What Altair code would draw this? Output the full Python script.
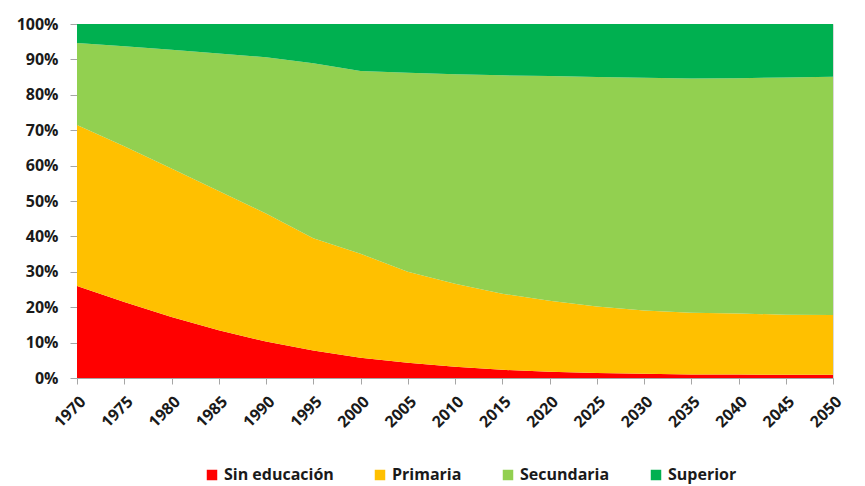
import altair as alt
import pandas as pd

years = [1970, 1975, 1980, 1985, 1990, 1995, 2000, 2005, 2010, 2015, 2020, 2025, 2030, 2035, 2040, 2045, 2050]
categories = ["Sin educación", "Primaria", "Secundaria", "Superior"]
colors = ["#FF0000", "#FFC000", "#92D050", "#00B050"]

# cumulative tops (percent)
top_sin = [26.0, 21.5, 17.2, 13.5, 10.3, 7.8, 5.7, 4.3, 3.2, 2.3, 1.8, 1.4, 1.2, 1.0, 1.0, 0.9, 0.9]
top_pri = [71.5, 65.5, 59.2, 52.8, 46.5, 39.5, 35.1, 30.0, 26.6, 23.8, 21.8, 20.2, 19.1, 18.4, 18.2, 17.9, 17.8]
top_sec = [94.6, 93.7, 92.7, 91.7, 90.6, 88.9, 86.7, 86.2, 85.8, 85.5, 85.3, 85.0, 84.8, 84.6, 84.7, 84.9, 85.1]

sin = top_sin
pri = [b - a for a, b in zip(top_sin, top_pri)]
sec = [b - a for a, b in zip(top_pri, top_sec)]
sup = [100 - a for a in top_sec]

rows = []
for i, y in enumerate(years):
    for k, (cat, vals) in enumerate(zip(categories, [sin, pri, sec, sup])):
        rows.append({"year": y, "cat": cat, "val": vals[i] / 100.0, "ord": k})
df = pd.DataFrame(rows)

font = "Open Sans"

chart = alt.Chart(df).mark_area(interpolate="linear").encode(
    x=alt.X("year:Q",
            scale=alt.Scale(domain=[1970, 2050], nice=False, zero=False),
            axis=alt.Axis(values=years, format="d", title=None, labelAngle=-45,
                          labelAlign="right", labelBaseline="top",
                          labelFont=font, labelFontWeight="bold", labelFontSize=16,
                          labelColor="#1a1a1a", domainColor="#a6a6a6", tickColor="#a6a6a6",
                          tickSize=6, grid=False, labelPadding=9)),
    y=alt.Y("val:Q", stack="zero",
            scale=alt.Scale(domain=[0, 1], nice=False),
            axis=alt.Axis(values=[i / 10 for i in range(11)], format=".0%", title=None,
                          labelFont=font, labelFontWeight="bold", labelFontSize=16,
                          labelColor="#1a1a1a", domainColor="#a6a6a6", tickColor="#a6a6a6",
                          tickSize=7, grid=False, labelPadding=12)),
    color=alt.Color("cat:N",
                    scale=alt.Scale(domain=categories, range=colors),
                    legend=alt.Legend(title=None, orient="none", direction="horizontal",
                                      legendX=127, legendY=443, symbolType="square",
                                      symbolSize=110, symbolStrokeWidth=0,
                                      labelFont=font, labelFontWeight="bold", labelFontSize=16,
                                      labelColor="#1a1a1a", columnPadding=38, labelLimit=300)),
    order=alt.Order("ord:Q", sort="ascending"),
).properties(
    width=756, height=354,
    autosize=alt.AutoSizeParams(type="none"),
    padding={"left": 69, "top": 16, "right": 24, "bottom": 106},
).configure_view(stroke="#d9d9d9", strokeWidth=1)

chart.save("out.html", embed_options={"renderer": "svg", "actions": False})
